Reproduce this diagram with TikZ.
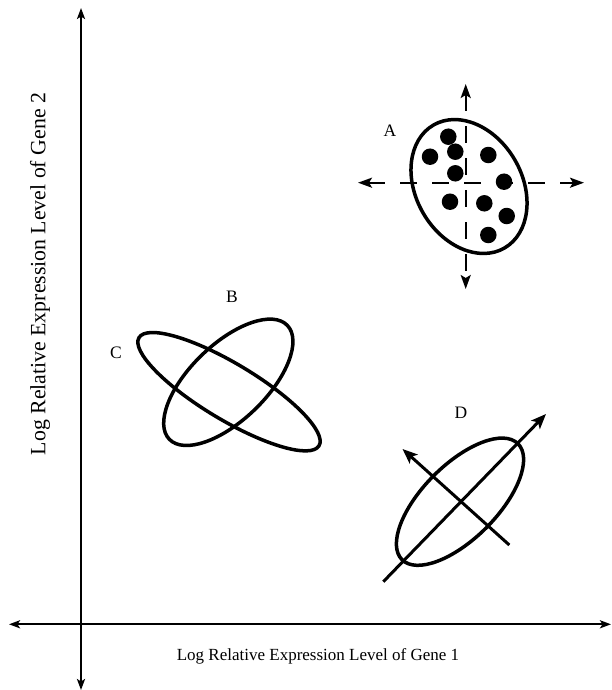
\documentclass[tikz,border=0pt]{standalone}
\usepackage{fontspec}
\setmainfont{Liberation Serif}
\usetikzlibrary{arrows.meta}
\begin{document}
\begin{tikzpicture}[x=1pt,y=-1pt,
  axis2/.style={line width=2.2pt,{Stealth[length=11pt,width=8pt,inset=2.5pt]}-{Stealth[length=11pt,width=8pt,inset=2.5pt]}},
  ell/.style={line width=3.5pt},
  dcross/.style={line width=2.2pt,dash pattern=on 17pt off 15pt,{Stealth[length=14pt,width=10pt,inset=3pt]}-{Stealth[length=14pt,width=10pt,inset=3pt]}},
  darrow/.style={line width=3pt,-{Stealth[length=15pt,width=12pt,inset=3.5pt]}},
  dot/.style={circle,fill=black,inner sep=0pt,minimum size=16.5pt},
  lab/.style={font=\fontsize{17.5}{20}\selectfont,inner sep=0pt},
  axlab/.style={font=\fontsize{17}{20}\selectfont,inner sep=0pt}]
\useasboundingbox (0,0) rectangle (611,690);
% axes
\coordinate (yt) at (81,8);
\coordinate (yb) at (81,690);
\coordinate (xl) at (9,624.3);
\coordinate (xr) at (611,624.3);
\draw[axis2] (xl) -- (xr);
\draw[axis2] (yt) -- (yb);
\node[axlab] (xlab) at (318,656) {Log Relative Expression Level of Gene 1};
\node[inner sep=0pt,rotate=90,font=\fontsize{21.8}{24}\selectfont] (ylab) at (40,274) {Log Relative Expression Level of Gene 2};
% cluster A
\coordinate (Ac) at (469,186.5);
\draw[ell,rotate around={-60:(Ac)}] (Ac) ellipse [x radius=71pt, y radius=53pt];
\coordinate (Al) at (358,182.7);
\coordinate (Ar) at (584,182.7);
\coordinate (At) at (465.7,84);
\coordinate (Ab) at (465.7,289);
\draw[dcross] (Al) -- (Ar);
\draw[dcross] (At) -- (Ab);
\node[dot] (a1) at (448.3,136.7) {};
\node[dot] (a2) at (430,156.7) {};
\node[dot] (a3) at (455.3,151.7) {};
\node[dot] (a4) at (488.3,155) {};
\node[dot] (a5) at (455.3,173.3) {};
\node[dot] (a6) at (504,181.7) {};
\node[dot] (a7) at (450,201.7) {};
\node[dot] (a8) at (484.3,203.3) {};
\node[dot] (a9) at (506.7,216) {};
\node[dot] (a10) at (488.3,235) {};
\node[lab] (lA) at (390,131) {A};
% clusters B and C
\coordinate (Bc) at (228.3,382.3);
\draw[ell,rotate around={44:(Bc)}] (Bc) ellipse [x radius=82pt, y radius=38pt];
\coordinate (Cc) at (229,391.7);
\draw[ell,rotate around={-31:(Cc)}] (Cc) ellipse [x radius=105pt, y radius=28pt];
\node[lab] (lB) at (232,297) {B};
\node[lab] (lC) at (116,353) {C};
% cluster D
\coordinate (Dc) at (460,501.7);
\draw[ell,rotate around={45:(Dc)}] (Dc) ellipse [x radius=82pt, y radius=37pt];
\coordinate (D1s) at (383.3,581.7);
\coordinate (D1e) at (546,414);
\coordinate (D2s) at (509.3,545);
\coordinate (D2e) at (402.5,449);
\draw[darrow] (D1s) -- (D1e);
\draw[darrow] (D2s) -- (D2e);
\node[lab] (lD) at (461,413) {D};
\end{tikzpicture}
\end{document}
